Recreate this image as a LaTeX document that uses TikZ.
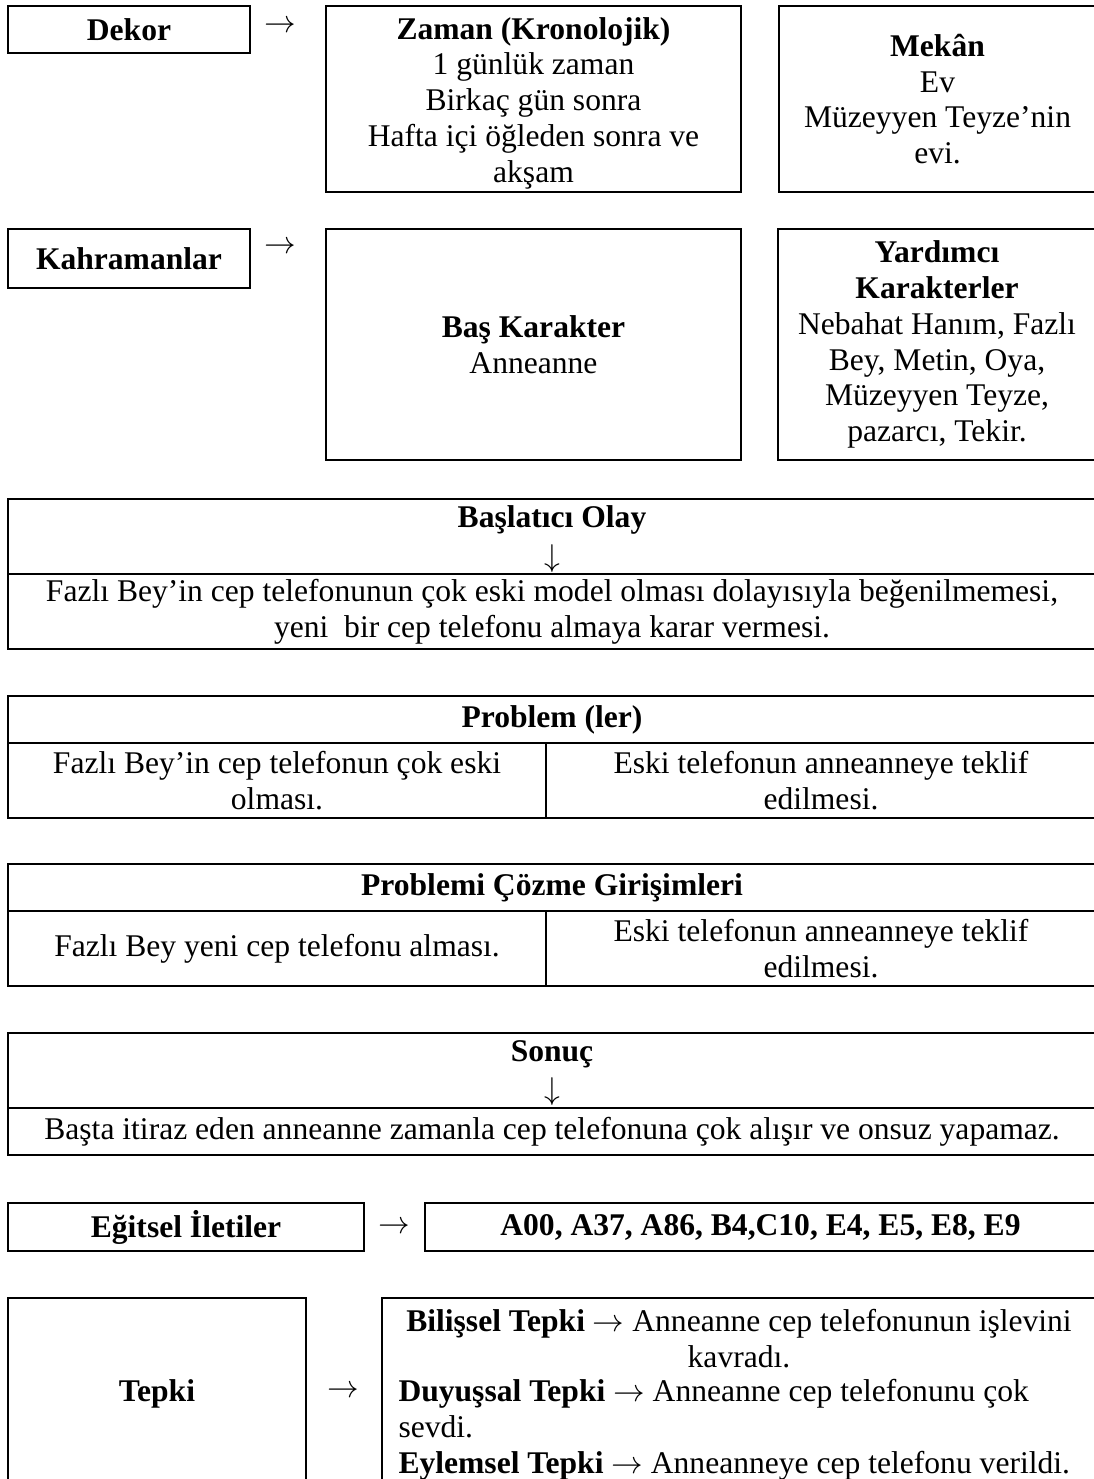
\documentclass[tikz,border=0pt]{standalone}
\usepackage{fontspec}
\setmainfont{Liberation Serif}
\usepackage{tikz}

\begin{document}
\begin{tikzpicture}[
    x=0.38pt, y=-0.38pt,
    every node/.style={font=\fontsize{12pt}{13.6pt}\selectfont, inner sep=0pt},
    kutu/.style={draw, line width=0.8pt, align=center},
    olcu/.style 2 args={minimum width=#1*0.38pt, minimum height=#2*0.38pt}
]
\useasboundingbox (0,0) rectangle (1094,1479);

% dekor
\node[kutu, olcu={242}{47}] (dekor) at (129,29.5) {\textbf{Dekor}};
\node (ok1) at (280,27) {$\rightarrow$};
\node[kutu, olcu={415}{186}] (zaman) at (533.5,99) {};
\node[align=center] (zamanyazi) at (533.5,103) {\textbf{Zaman (Kronolojik)}\\1 günlük zaman\\Birkaç gün sonra\\Hafta içi öğleden sonra ve\\akşam};
\node[kutu, olcu={317}{186}] (mekan) at (937.5,99) {\textbf{Mekân}\\Ev\\Müzeyyen Teyze’nin\\evi.};

% kahramanlar
\node[kutu, olcu={242}{59}] (kahraman) at (129,258.5) {\textbf{Kahramanlar}};
\node (ok2) at (280,248) {$\rightarrow$};
\node[kutu, olcu={415}{231}] (baskarakter) at (533.5,344.5) {\textbf{Baş Karakter}\\Anneanne};
\node[kutu, olcu={318}{231}] (yardimci) at (937,344.5) {\textbf{Yardımcı}\\\textbf{Karakterler}\\Nebahat Hanım, Fazlı\\Bey, Metin, Oya,\\Müzeyyen Teyze,\\pazarcı, Tekir.};

% baslatici olay
\node[kutu, olcu={1088}{75}] (baslatici) at (552,536.5) {};
\node[align=center] (baslaticiyazi) at (552,539) {\textbf{Başlatıcı Olay}\\[1pt]$\downarrow$};
\node[kutu, olcu={1088}{75}] (olay) at (552,611.5) {Fazlı Bey’in cep telefonunun çok eski model olması dolayısıyla beğenilmemesi,\\yeni~ bir cep telefonu almaya karar vermesi.};

% problemler
\node[kutu, olcu={1088}{47}] (problem) at (552,719.5) {\textbf{Problem (ler)}};
\node[kutu, olcu={538}{75}] (problem1) at (277,780.5) {Fazlı Bey’in cep telefonun çok eski\\olması.};
\node[kutu, olcu={550}{75}] (problem2) at (821,780.5) {Eski telefonun anneanneye teklif\\edilmesi.};

% cozme girisimleri
\node[kutu, olcu={1088}{47}] (cozme) at (552,887.5) {\textbf{Problemi Çözme Girişimleri}};
\node[kutu, olcu={538}{75}] (cozme1) at (277,948.5) {Fazlı Bey yeni cep telefonu alması.};
\node[kutu, olcu={550}{75}] (cozme2) at (821,948.5) {Eski telefonun anneanneye teklif\\edilmesi.};

% sonuc
\node[kutu, olcu={1088}{75}] (sonuc) at (552,1070.5) {};
\node[align=center] (sonucyazi) at (552,1073) {\textbf{Sonuç}\\[1pt]$\downarrow$};
\node[kutu, olcu={1088}{47}] (sonuc1) at (552,1131.5) {Başta itiraz eden anneanne zamanla cep telefonuna çok alışır ve onsuz yapamaz.};

% egitsel iletiler
\node[kutu, olcu={356}{48}] (egitsel) at (186,1227) {\textbf{Eğitsel İletiler}};
\node (ok3) at (394,1228) {$\rightarrow$};
\node[kutu, olcu={671}{48}] (kodlar) at (760.5,1227) {\textbf{A00, A37, A86, B4,C10, E4, E5, E8, E9}};

% tepki
\node[kutu, olcu={298}{192}] (tepki) at (157,1394) {\textbf{Tepki}};
\node (ok4) at (343,1392) {$\rightarrow$};
\node[kutu, olcu={714}{192}] (tepkiler) at (739,1394) {};
\node[align=center] (bilissel) at (739,1338.5) {\textbf{Bilişsel Tepki} $\rightarrow$ Anneanne cep telefonunun işlevini\\kavradı.};
\node[align=left, anchor=west] (duyussal) at (398,1429.5) {\textbf{Duyuşsal Tepki} $\rightarrow$ Anneanne cep telefonunu çok\\sevdi.\\\textbf{Eylemsel Tepki} $\rightarrow$ Anneanneye cep telefonu verildi.};
\end{tikzpicture}
\end{document}
